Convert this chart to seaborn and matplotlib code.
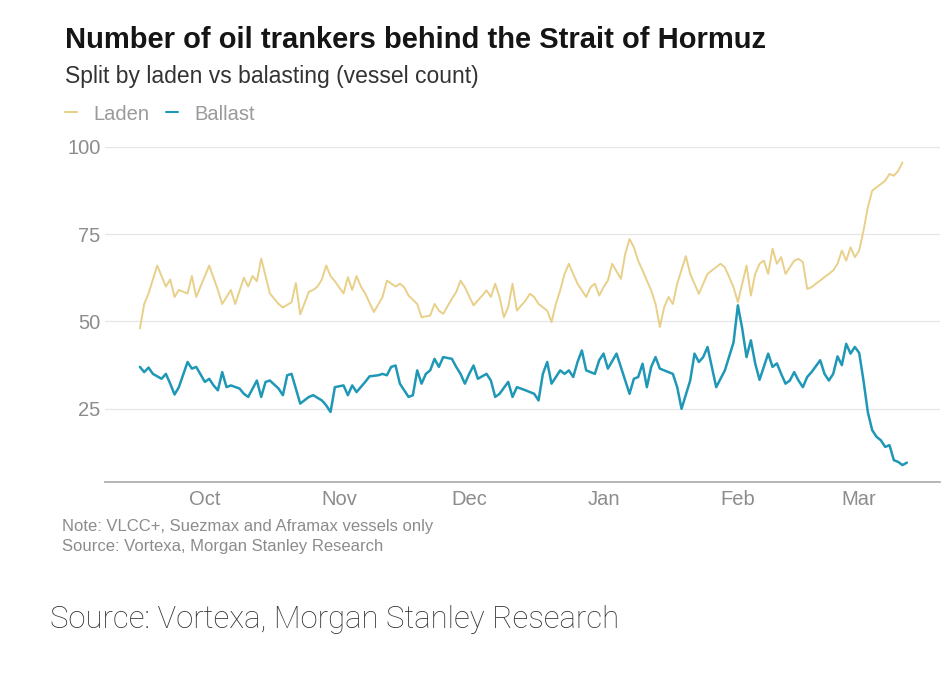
import pandas as pd
import seaborn as sns
import matplotlib.pyplot as plt
from matplotlib.lines import Line2D

# Laden tankers (vessel count)
laden_dates = [
    "2025-09-16", "2025-09-17", "2025-09-18", "2025-09-20", "2025-09-22", "2025-09-23",
    "2025-09-24", "2025-09-25", "2025-09-27", "2025-09-28", "2025-09-29", "2025-10-02",
    "2025-10-04", "2025-10-05", "2025-10-07", "2025-10-08", "2025-10-10", "2025-10-11",
    "2025-10-12", "2025-10-13", "2025-10-14", "2025-10-16", "2025-10-18", "2025-10-19",
    "2025-10-21", "2025-10-22", "2025-10-23", "2025-10-25", "2025-10-26", "2025-10-27",
    "2025-10-28", "2025-10-29", "2025-10-30", "2025-10-31", "2025-11-02", "2025-11-03",
    "2025-11-04", "2025-11-05", "2025-11-06", "2025-11-07", "2025-11-09", "2025-11-11",
    "2025-11-12", "2025-11-14", "2025-11-15", "2025-11-16", "2025-11-17", "2025-11-19",
    "2025-11-20", "2025-11-22", "2025-11-23", "2025-11-24", "2025-11-25", "2025-11-27",
    "2025-11-28", "2025-11-29", "2025-11-30", "2025-12-02", "2025-12-04", "2025-12-05",
    "2025-12-06", "2025-12-07", "2025-12-08", "2025-12-09", "2025-12-10", "2025-12-11",
    "2025-12-12", "2025-12-14", "2025-12-15", "2025-12-16", "2025-12-17", "2025-12-19",
    "2025-12-20", "2025-12-21", "2025-12-22", "2025-12-23", "2025-12-24", "2025-12-25",
    "2025-12-26", "2025-12-28", "2025-12-29", "2025-12-30", "2025-12-31", "2026-01-01",
    "2026-01-02", "2026-01-03", "2026-01-05", "2026-01-06", "2026-01-07", "2026-01-08",
    "2026-01-09", "2026-01-10", "2026-01-11", "2026-01-12", "2026-01-13", "2026-01-14",
    "2026-01-15", "2026-01-16", "2026-01-17", "2026-01-18", "2026-01-20", "2026-01-21",
    "2026-01-23", "2026-01-24", "2026-01-25", "2026-01-26", "2026-01-28", "2026-01-29",
    "2026-01-30", "2026-01-31", "2026-02-01", "2026-02-02", "2026-02-03", "2026-02-04",
    "2026-02-05", "2026-02-06", "2026-02-07", "2026-02-08", "2026-02-09", "2026-02-10",
    "2026-02-11", "2026-02-12", "2026-02-13", "2026-02-14", "2026-02-15", "2026-02-16",
    "2026-02-17", "2026-02-18", "2026-02-19", "2026-02-20", "2026-02-21", "2026-02-22",
    "2026-02-23", "2026-02-24", "2026-02-25", "2026-02-26", "2026-02-27", "2026-02-28",
    "2026-03-01", "2026-03-02", "2026-03-03", "2026-03-04", "2026-03-05", "2026-03-06",
    "2026-03-07", "2026-03-08", "2026-03-09", "2026-03-10", "2026-03-11",
]
laden_values = [
    48, 55, 58, 66, 60, 62,
    57, 59, 58, 63, 57, 66,
    59, 55, 59, 55, 62.5, 60,
    63, 61.5, 68, 58, 55, 54,
    55.5, 61, 52, 58.5, 59, 60,
    62, 66, 63, 61.5, 58, 62.7,
    59, 63, 60, 58, 52.7, 57,
    61.7, 60, 60.8, 59.8, 57.4, 55,
    51.2, 51.7, 55, 53.1, 52.2, 56.5,
    58.4, 61.7, 59.8, 54.6, 57.4, 58.9,
    57, 60.8, 57, 51.2, 54.1, 60.8,
    53.1, 56, 57.9, 57, 55, 53.1,
    49.8, 55, 58.9, 63.6, 66.5, 63.6,
    60.8, 57, 59.8, 60.8, 57.4, 59.8,
    61.7, 66.5, 62.2, 69.3, 73.6, 71.2,
    67.4, 64.6, 61.7, 58.9, 55, 48.4,
    54.1, 57, 55, 60.8, 68.7, 63.6,
    57.9, 60.8, 63.6, 64.6, 66.5, 65.5,
    62.7, 59.8, 55.5, 60.8, 66, 57.4,
    63.6, 66.5, 67.4, 63.6, 70.8, 66.5,
    68.4, 63.6, 65.5, 67.4, 67.9, 67,
    59.3, 59.8, 60.8, 61.7, 62.7, 63.6,
    64.6, 66.5, 70.3, 67.4, 71.2, 68.4,
    70.3, 76, 82.7, 87.4, 88.4, 89.3,
    90.3, 92.2, 91.7, 93.1, 95.5,
]

# Ballast tankers (vessel count)
ballast_dates = [
    "2025-09-16", "2025-09-17", "2025-09-18", "2025-09-19", "2025-09-21", "2025-09-22",
    "2025-09-23", "2025-09-24", "2025-09-25", "2025-09-27", "2025-09-28", "2025-09-29",
    "2025-10-01", "2025-10-02", "2025-10-03", "2025-10-04", "2025-10-05", "2025-10-06",
    "2025-10-07", "2025-10-09", "2025-10-10", "2025-10-11", "2025-10-13", "2025-10-14",
    "2025-10-15", "2025-10-16", "2025-10-18", "2025-10-19", "2025-10-20", "2025-10-21",
    "2025-10-22", "2025-10-23", "2025-10-25", "2025-10-26", "2025-10-28", "2025-10-29",
    "2025-10-30", "2025-10-31", "2025-11-02", "2025-11-03", "2025-11-04", "2025-11-05",
    "2025-11-07", "2025-11-08", "2025-11-10", "2025-11-11", "2025-11-12", "2025-11-13",
    "2025-11-14", "2025-11-15", "2025-11-17", "2025-11-18", "2025-11-19", "2025-11-20",
    "2025-11-21", "2025-11-22", "2025-11-23", "2025-11-24", "2025-11-25", "2025-11-27",
    "2025-11-28", "2025-11-29", "2025-11-30", "2025-12-01", "2025-12-02", "2025-12-03",
    "2025-12-05", "2025-12-06", "2025-12-07", "2025-12-08", "2025-12-10", "2025-12-11",
    "2025-12-12", "2025-12-14", "2025-12-15", "2025-12-16", "2025-12-17", "2025-12-18",
    "2025-12-19", "2025-12-20", "2025-12-22", "2025-12-23", "2025-12-24", "2025-12-25",
    "2025-12-26", "2025-12-27", "2025-12-28", "2025-12-30", "2025-12-31", "2026-01-01",
    "2026-01-02", "2026-01-04", "2026-01-05", "2026-01-07", "2026-01-08", "2026-01-09",
    "2026-01-10", "2026-01-11", "2026-01-12", "2026-01-13", "2026-01-14", "2026-01-15",
    "2026-01-17", "2026-01-18", "2026-01-19", "2026-01-21", "2026-01-22", "2026-01-23",
    "2026-01-24", "2026-01-25", "2026-01-26", "2026-01-27", "2026-01-29", "2026-01-30",
    "2026-01-31", "2026-02-01", "2026-02-02", "2026-02-03", "2026-02-04", "2026-02-05",
    "2026-02-06", "2026-02-07", "2026-02-08", "2026-02-09", "2026-02-10", "2026-02-11",
    "2026-02-12", "2026-02-13", "2026-02-14", "2026-02-15", "2026-02-16", "2026-02-17",
    "2026-02-18", "2026-02-20", "2026-02-21", "2026-02-22", "2026-02-23", "2026-02-24",
    "2026-02-25", "2026-02-26", "2026-02-27", "2026-02-28", "2026-03-01", "2026-03-02",
    "2026-03-03", "2026-03-04", "2026-03-05", "2026-03-06", "2026-03-07", "2026-03-08",
    "2026-03-09", "2026-03-10", "2026-03-11", "2026-03-12",
]
ballast_values = [
    37, 35.5, 36.8, 35, 33.6, 35,
    32.2, 29.1, 31.2, 38.4, 36.5, 37,
    32.7, 33.6, 31.7, 30.3, 35.5, 31.2,
    31.7, 30.8, 29.3, 28.4, 33.1, 28.4,
    32.7, 33.1, 30.8, 28.9, 34.6, 35,
    30.8, 26.5, 28.4, 28.9, 27.4, 26,
    24.1, 31.2, 31.7, 28.9, 31.7, 29.8,
    32.7, 34.3, 34.6, 35, 34.6, 37,
    37.4, 32.2, 28.4, 28.9, 36, 32.2,
    35, 36, 39.3, 37, 39.8, 39.3,
    37, 35, 32.2, 35, 37.4, 33.6,
    35, 33.1, 28.4, 29.3, 32.7, 28.4,
    31.2, 30.3, 29.8, 29.3, 27.4, 35,
    38.4, 32.2, 36, 35, 36, 34.1,
    38.4, 41.7, 36, 35, 38.9, 40.8,
    36.5, 40.8, 37, 29.3, 33.6, 34.1,
    37.9, 31.2, 37, 39.8, 36.5, 36,
    35, 31.2, 25, 33.1, 40.8, 38.4,
    39.8, 42.7, 37, 31.2, 36, 40,
    44, 54.6, 48, 39.8, 44.6, 38,
    33.3, 37, 40.8, 37, 38, 35,
    32.2, 33.1, 35.5, 33.1, 31.2, 34.1,
    35.5, 38.9, 35, 33.1, 35, 40,
    37.5, 43.6, 40.8, 42.7, 41, 33,
    24, 18.9, 17, 16, 14.1, 14.6,
    10.3, 9.8, 8.9, 9.6,
]

month_ticks = ["2025-10-01", "2025-11-01", "2025-12-01", "2026-01-01", "2026-02-01", "2026-03-01"]
month_labels = ["Oct", "Nov", "Dec", "Jan", "Feb", "Mar"]
y_ticks = [25, 50, 75, 100]

laden_color = "#e8d08a"
ballast_color = "#1f97b6"

laden_df = pd.DataFrame({"date": pd.to_datetime(laden_dates), "count": laden_values})
ballast_df = pd.DataFrame({"date": pd.to_datetime(ballast_dates), "count": ballast_values})

sns.set_theme(style="white")
plt.rcParams["font.family"] = ["Liberation Sans", "DejaVu Sans"]

fig = plt.figure(figsize=(9.44, 6.73), dpi=100)
ax = fig.add_axes([0.111, 0.284, 0.885, 0.498])

sns.lineplot(data=laden_df, x="date", y="count", color=laden_color, linewidth=1.4, ax=ax)
sns.lineplot(data=ballast_df, x="date", y="count", color=ballast_color, linewidth=1.8, ax=ax)

# Axes
start = pd.Timestamp("2025-10-01")
ax.set_xlim(start - pd.Timedelta(days=23.1), start + pd.Timedelta(days=169.7))
ax.set_ylim(4.1, 100)
ax.set_xticks(pd.to_datetime(month_ticks))
ax.set_xticklabels(month_labels)
ax.set_yticks(y_ticks)
ax.set_xlabel("")
ax.set_ylabel("")

ax.grid(axis="y", color="#e6e6e6", linewidth=0.9)
ax.grid(axis="x", visible=False)
for side in ["top", "right", "left"]:
    ax.spines[side].set_visible(False)
ax.spines["bottom"].set_color("#b0b0b0")
ax.spines["bottom"].set_linewidth(1.3)

ax.tick_params(axis="x", length=0, pad=6, labelsize=14.5, labelcolor="#8c8c8c")
ax.tick_params(axis="y", length=0, pad=3, labelsize=14.5, labelcolor="#8c8c8c")

# Titles
fig.text(65 / 944, 1 - 40 / 673, "Number of oil trankers behind the Strait of Hormuz",
         fontsize=21, fontweight="bold", color="#151515", va="center", ha="left")
fig.text(65 / 944, 1 - 77 / 673, "Split by laden vs balasting (vessel count)",
         fontsize=16.5, color="#333333", va="center", ha="left")

# Legend
handles = [
    Line2D([0], [0], color=laden_color, linewidth=1.5),
    Line2D([0], [0], color=ballast_color, linewidth=1.5),
]
fig.legend(handles, ["Laden", "Ballast"], loc="center left",
           bbox_to_anchor=(65 / 944, 1 - 114 / 673), ncol=2, frameon=False,
           handlelength=0.6, handletextpad=0.8, columnspacing=0.85,
           fontsize=14.5, labelcolor="#9a9a9a", borderaxespad=0, borderpad=0)

# Notes
fig.text(62 / 944, 1 - 527 / 673, "Note: VLCC+, Suezmax and Aframax vessels only",
         fontsize=12, color="#8c8c8c", va="center", ha="left")
fig.text(62 / 944, 1 - 547 / 673, "Source: Vortexa, Morgan Stanley Research",
         fontsize=12, color="#8c8c8c", va="center", ha="left")

fig.text(50 / 944, 1 - 620 / 673, "Source: Vortexa, Morgan Stanley Research",
         fontsize=22.4, fontfamily="Roboto", fontweight="light", color="#333333",
         va="center", ha="left")

plt.savefig("out.png", dpi=100)
plt.close()
